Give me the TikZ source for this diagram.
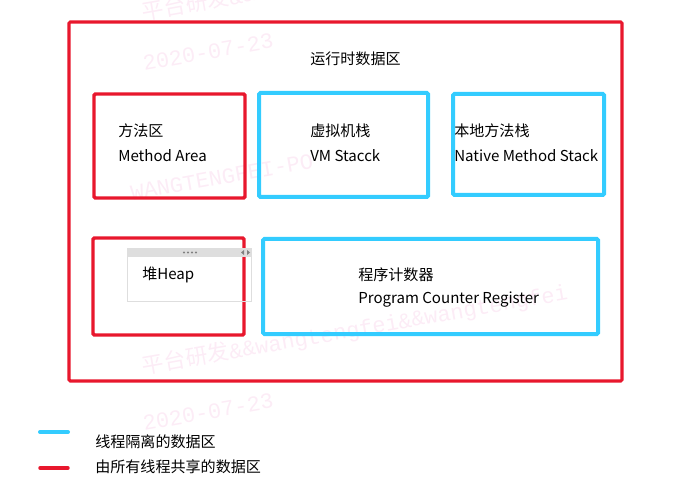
\documentclass[tikz,border=0pt]{standalone}
\usepackage{fontspec}
\setmainfont{Noto Sans CJK SC}
\newfontfamily\wmfont{Liberation Mono}
\newfontfamily\wmcjk{Noto Sans CJK SC}
\definecolor{areared}{RGB}{232,23,45}
\definecolor{areablue}{RGB}{51,204,255}
\definecolor{wmpink}{RGB}{252,236,246}
\definecolor{widgetgray}{RGB}{222,222,222}

\begin{document}
\begin{tikzpicture}[x=0.75pt, y=-0.75pt,
  shared/.style={draw=areared, line width=2.6pt, rounded corners=1pt},
  private/.style={draw=areablue, line width=3pt, rounded corners=1pt},
  label/.style={anchor=west, inner sep=0pt, font=\fontsize{11.3}{13}\selectfont},
  watermark/.style={text=wmpink, rotate=10, inner sep=0pt, font=\wmfont\fontsize{16.5}{18}\selectfont}]
          \useasboundingbox (0,0) rectangle (674,495);
          \node[watermark] (wmtop) at (355,-24) {{\wmcjk 平台研发}\&\&wangtengfei\&\&wangtengfei};
          \node[watermark] (wmdate) at (208,52) {2020-07-23};
          \node[watermark] (wmname) at (222,177) {WANGTENGFEI-PO};
          \node[watermark] (wmbottom) at (355,330) {{\wmcjk 平台研发}\&\&wangtengfei\&\&wangtengfei};
          \node[watermark] (wmdate2) at (208,412) {2020-07-23};
          \draw[shared, line width=2.3pt] (69,22) rectangle (622,381);
          \node[label] (runtime) at (310,59) {运行时数据区};
          \draw[shared] (94,94) rectangle (245,198);
          \node[label] (methodcn) at (118,131) {方法区};
          \node[label] (methoden) at (118,156) {Method Area};
          \draw[private] (259,93) rectangle (428,197);
          \node[label] (vmcn) at (310,131) {虚拟机栈};
          \node[label] (vmen) at (310,156) {VM Stacck};
          \draw[private] (453,94) rectangle (604,195);
          \node[label] (nativecn) at (454,131) {本地方法栈};
          \node[label] (nativeen) at (454,156) {Native Method Stack};
          \draw[shared] (93,238) rectangle (244,335);
          \draw[widgetgray, line width=0.6pt] (127,248) rectangle (251,301);
          \fill[widgetgray] (127,248) rectangle (251,257);
          \foreach \dx in {184,188,192,196}
            \fill[gray] (\dx,252.5) circle (0.8pt);
          \fill[gray] (241,252.5) -- (244,250) -- (244,255) -- cycle;
          \fill[gray] (250,252.5) -- (247,250) -- (247,255) -- cycle;
          \node[label] (heap) at (142,275) {堆Heap};
          \draw[private] (263,239) rectangle (598,334);
          \node[label] (pccn) at (358,275) {程序计数器};
          \node[label] (pcen) at (358,300) {Program Counter Register};
          \coordinate (privfrom) at (40,432);
          \coordinate (privto) at (68,432);
          \draw[private, line cap=round] (privfrom) -- (privto);
          \node[label] (privtext) at (95,442) {线程隔离的数据区};
          \coordinate (sharedfrom) at (40,468);
          \coordinate (sharedto) at (68,468);
          \draw[shared, line cap=round] (sharedfrom) -- (sharedto);
          \node[label] (sharedtext) at (95,467) {由所有线程共享的数据区};
        \end{tikzpicture}
\end{document}
